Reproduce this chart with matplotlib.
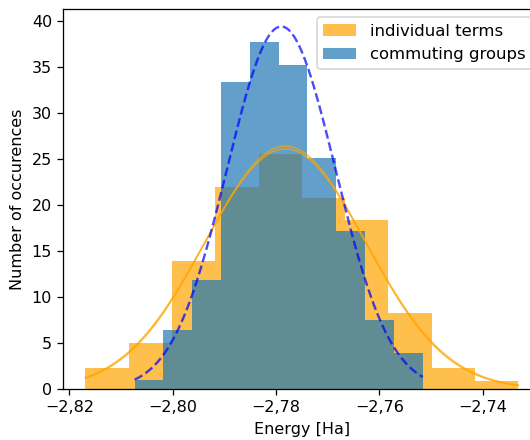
import numpy as np
import matplotlib
matplotlib.use('Agg')
import matplotlib.pyplot as plt
from matplotlib.ticker import FuncFormatter

# histogram bin ranges (Ha) and densities
ind_range = (-2.8169, -2.7331)
ind_heights = [2.3, 5.0, 13.9, 22.0, 25.5, 20.8, 18.4, 8.3, 2.3, 0.87]

grp_range = (-2.8074, -2.7516)
grp_heights = [1.0, 6.4, 11.8, 33.4, 37.7, 35.2, 25.1, 17.2, 7.5, 3.9]

# gaussian fits: mean, width, peak height
ind_fits = [(-2.7782, 0.0155, 26.4), (-2.7782, 0.0157, 26.1)]
grp_fit = (-2.7790, 0.0105, 39.4)


def edges_of(rng, n):
    return np.linspace(rng[0], rng[1], n + 1)


def gauss(x, mu, sig, peak):
    return peak * np.exp(-0.5 * ((x - mu) / sig) ** 2)


DPI = 115
fig = plt.figure(figsize=(530 / DPI, 440 / DPI), dpi=DPI)
# the original is cropped on the right, so the axes run past the figure edge
ax = fig.add_axes([0.1194, 0.1159, 0.8994, 0.8636])

ind_edges = edges_of(ind_range, len(ind_heights))
grp_edges = edges_of(grp_range, len(grp_heights))

ax.hist(ind_edges[:-1], bins=ind_edges, weights=ind_heights, color='orange',
        alpha=0.7, label='individual terms')
ax.hist(grp_edges[:-1], bins=grp_edges, weights=grp_heights, color='tab:blue',
        alpha=0.7, label='commuting groups')

xi = np.linspace(ind_range[0], ind_range[1], 200)
for mu, sig, pk in ind_fits:
    ax.plot(xi, gauss(xi, mu, sig, pk), color='orange', alpha=0.7, lw=1.0)

xg = np.linspace(grp_range[0], grp_range[1], 200)
ax.plot(xg, gauss(xg, *grp_fit), color='blue', alpha=0.7, lw=1.5, ls='--')

ax.set_xlim(-2.8212, -2.7289)
ax.set_ylim(0, 41.3)
ax.set_xticks([-2.82, -2.80, -2.78, -2.76, -2.74])
ax.xaxis.set_major_formatter(FuncFormatter(
    lambda v, p: ('%.2f' % v).replace('.', ',').replace('-', '\u2212')))

ax.set_xlabel('Energy [Ha]')
ax.set_ylabel('Number of occurences')
ax.legend(loc='upper right', fontsize=10.3)

fig.savefig('out.png', dpi=DPI)
